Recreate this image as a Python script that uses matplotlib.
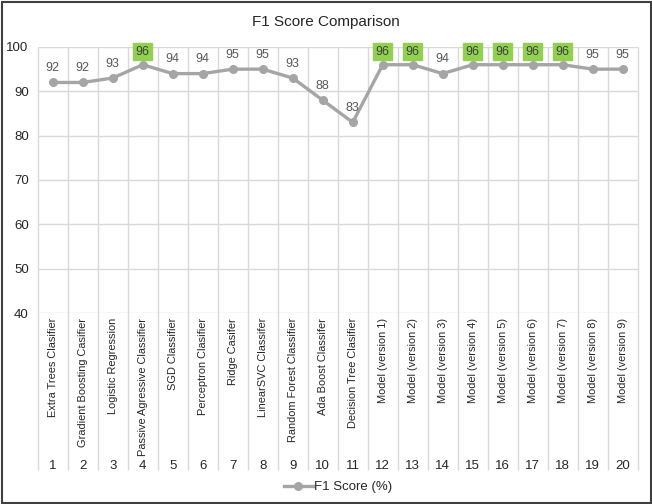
import numpy as np
import matplotlib.pyplot as plt
from matplotlib.patches import Rectangle

# data
models = ["Extra Trees Clasifier", "Gradient Boosting Casifier", "Logistic Regression",
          "Passive Agressive Classifier", "SGD Classifier", "Perceptron Clasifier",
          "Ridge Casifer", "LinearSVC Classifer", "Random Forest Classifier",
          "Ada Boost Classifer", "Decision Tree Clasifier",
          "Model (version 1)", "Model (version 2)", "Model (version 3)", "Model (version 4)",
          "Model (version 5)", "Model (version 6)", "Model (version 7)", "Model (version 8)",
          "Model (version 9)"]
idx = list(range(1, 21))
f1 = [92, 92, 93, 96, 94, 94, 95, 95, 93, 88, 83, 96, 96, 94, 96, 96, 96, 96, 95, 95]
yticks = [40, 50, 60, 70, 80, 90, 100]

plt.rcParams['font.family'] = ['Liberation Sans', 'DejaVu Sans']

W, H = 652, 504
fig = plt.figure(figsize=(W / 100, H / 100), dpi=100)
ax = fig.add_axes([37.7 / W, 1 - 313 / H, 600 / W, 266 / H])
ax.set_xlim(0.5, 20.5)
ax.set_ylim(40, 100)
for s in ax.spines.values():
    s.set_visible(False)

gridc = "#D9D9D9"
# horizontal grid
ax.hlines(yticks, 0.5, 20.5, color=gridc, lw=1.0, zorder=1)
# vertical grid, running down through the category label area
ybot = 40 - (470 - 313) / 4.433
ax.vlines(np.arange(0.5, 21.5, 1), ybot, 100, color=gridc, lw=1.0, zorder=1, clip_on=False)

ax.set_xticks([])
ax.set_yticks(yticks)
ax.tick_params(axis='y', length=0, pad=6.5, labelsize=9.5, labelcolor="#262626")

ax.plot(idx, f1, color="#A5A5A5", lw=2.4, marker="o", markersize=5.5, zorder=3,
        label="F1 Score (%)")

best = max(f1)
for x, v in zip(idx, f1):
    if v == best:
        ax.annotate(str(v), (x, v), xytext=(0, 5), textcoords="offset points",
                    ha="center", va="bottom", fontsize=9, color="#404040",
                    bbox=dict(boxstyle="square,pad=0.2", fc="#92D050", ec="#92D050"))
    else:
        ax.annotate(str(v), (x, v), xytext=(0, 6), textcoords="offset points",
                    ha="center", va="bottom", fontsize=9, color="#595959")

# category labels (two levels)
ylab = 40 - (318 - 313) / 4.433
ynum = 40 - (466 - 313) / 4.433
for x, name in zip(idx, models):
    ax.text(x, ylab, name, rotation=90, ha="center", va="top", fontsize=7.9,
            color="#262626", clip_on=False)
    ax.text(x, ynum, str(x), ha="center", va="center", fontsize=9.5,
            color="#262626", clip_on=False)

fig.text(0.5, 1 - 22 / H, "F1 Score Comparison", ha="center", va="center",
         fontsize=11, color="#262626")

fig.legend(loc="center", bbox_to_anchor=(338 / W, 1 - 487 / H), frameon=False,
           fontsize=9.5, handlelength=2.2, handletextpad=0.1, labelcolor="#262626")

fig.patches.append(Rectangle((1.5 / W, 1.5 / H), (W - 3) / W, (H - 3) / H,
                             transform=fig.transFigure, fill=False,
                             ec="#404040", lw=1.5))

fig.savefig("out.png", dpi=100)
